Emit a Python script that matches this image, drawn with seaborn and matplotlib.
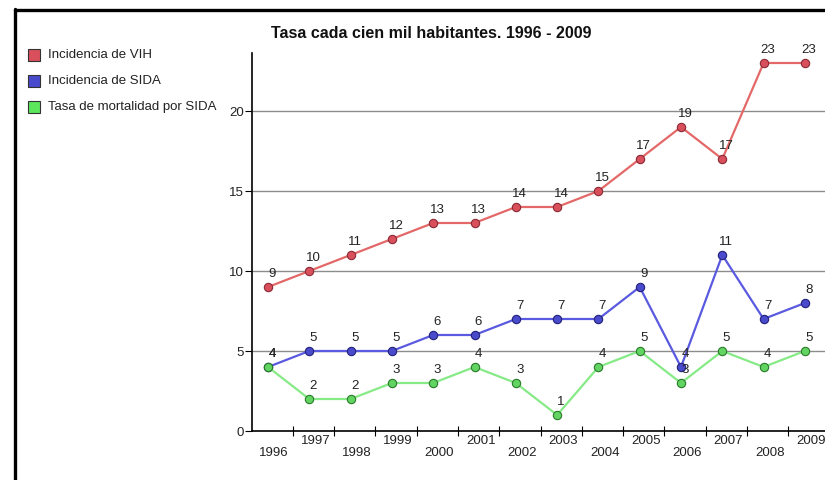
import matplotlib
matplotlib.use("Agg")
import matplotlib.pyplot as plt
import seaborn as sns
import pandas as pd
from matplotlib.lines import Line2D
from matplotlib.patches import Rectangle

years = ["1996", "1997", "1998", "1999", "2000", "2001", "2002",
         "2003", "2004", "2005", "2006", "2007", "2008", "2009"]
vih = [9, 10, 11, 12, 13, 13, 14, 14, 15, 17, 19, 17, 23, 23]
sida = [4, 5, 5, 5, 6, 6, 7, 7, 7, 9, 4, 11, 7, 8]
mort = [4, 2, 2, 3, 3, 4, 3, 1, 4, 5, 3, 5, 4, 5]
series_names = ["Incidencia de VIH", "Incidencia de SIDA", "Tasa de mortalidad por SIDA"]
title = "Tasa cada cien mil habitantes. 1996 - 2009"
yticks = [0, 5, 10, 15, 20]

sns.set_theme(style="white")
FONT = ["Liberation Sans Narrow", "Liberation Sans", "DejaVu Sans"]
plt.rcParams["font.family"] = FONT

W, H = 825, 480
fig = plt.figure(figsize=(W / 100, H / 100), dpi=100)
fig.patch.set_facecolor("white")

# axes geometry in pixels
ax_left, ax_bottom_px, ax_top_px = 252, 431, 53
x0_px, step_px = 268, 41.3
ax = fig.add_axes([ax_left / W, (H - ax_bottom_px) / H, (W - ax_left) / W,
                   (ax_bottom_px - ax_top_px) / H])
ax.set_facecolor("white")

styles = [
    dict(line="#E46868", face="#D9505C", edge="#8A2A35"),
    dict(line="#5A5AE0", face="#4A4ACC", edge="#22227A"),
    dict(line="#86EA86", face="#62D462", edge="#2A7A2A"),
]
data = [vih, sida, mort]
xs = list(range(len(years)))

# gridlines
for yv in yticks[1:]:
    ax.axhline(yv, color="#8C8C8C", lw=1.0, zorder=1)

for vals, st in zip(data, styles):
    df = pd.DataFrame({"x": xs, "y": vals})
    sns.lineplot(data=df, x="x", y="y", ax=ax, color=st["line"], lw=1.6,
                 marker="o", markersize=6, markerfacecolor=st["face"],
                 markeredgecolor=st["edge"], markeredgewidth=0.8, zorder=3)
    for xi, v in zip(xs, vals):
        ax.annotate(str(v), (xi, v), textcoords="offset pixels", xytext=(4, 13),
                    ha="center", va="center", fontsize=9.5, color="#222222",
                    family=FONT, zorder=4)

xmin = (ax_left - x0_px) / step_px
xmax = (W - x0_px) / step_px
ax.set_xlim(xmin, xmax)
ymax = (ax_bottom_px - ax_top_px) / 16.0
ax.set_ylim(0, ymax)

ax.set_xlabel("")
ax.set_ylabel("")
for s in ["top", "right"]:
    ax.spines[s].set_visible(False)
for s in ["left", "bottom"]:
    ax.spines[s].set_color("black")
    ax.spines[s].set_linewidth(1.2)

ax.set_yticks(yticks)
ax.set_yticklabels([str(v) for v in yticks], fontsize=9.5, color="#222222")
ax.tick_params(axis="y", direction="out", length=5, width=0.8, color="black", pad=1, left=True)

# x tick marks between categories
ax.set_xticks([i + 0.6 for i in range(len(years) - 1)])
ax.set_xticklabels([])
ax.tick_params(axis="x", direction="inout", length=7, width=0.8, color="black", bottom=True)

# staggered year labels
for i, yr in enumerate(years):
    off = 10 if i % 2 == 1 else 22
    ax.annotate(yr, (i + 0.15, 0), xycoords=("data", "data"), textcoords="offset pixels",
                xytext=(0, -off), ha="center", va="center", fontsize=9.5,
                color="#222222", family=FONT, annotation_clip=False)

# title
fig.text(271 / W, 1 - 33 / H, title, ha="left", va="center", fontsize=11.5,
         fontweight="bold", color="#111111", family=["Liberation Sans", "DejaVu Sans"])

# legend
for k, (name, st) in enumerate(zip(series_names, styles)):
    cy = 55 + 26 * k
    fig.add_artist(Rectangle((28 / W, 1 - (cy + 6) / H), 12 / W, 12 / H,
                             transform=fig.transFigure, facecolor=st["face"] if k < 2 else "#5CE65C",
                             edgecolor="#333333", lw=0.8))
    fig.text(48 / W, 1 - cy / H, name, ha="left", va="center", fontsize=9.5,
             color="#222222", family=FONT)

# frame border (left & top visible)
fig.add_artist(Line2D([15 / W, 15 / W], [0, 1 - 9 / H], transform=fig.transFigure,
                      color="black", lw=2.4))
fig.add_artist(Line2D([15 / W, 1], [1 - 10 / H, 1 - 10 / H], transform=fig.transFigure,
                      color="black", lw=2.4))

fig.savefig("out.png", dpi=100, facecolor="white")
